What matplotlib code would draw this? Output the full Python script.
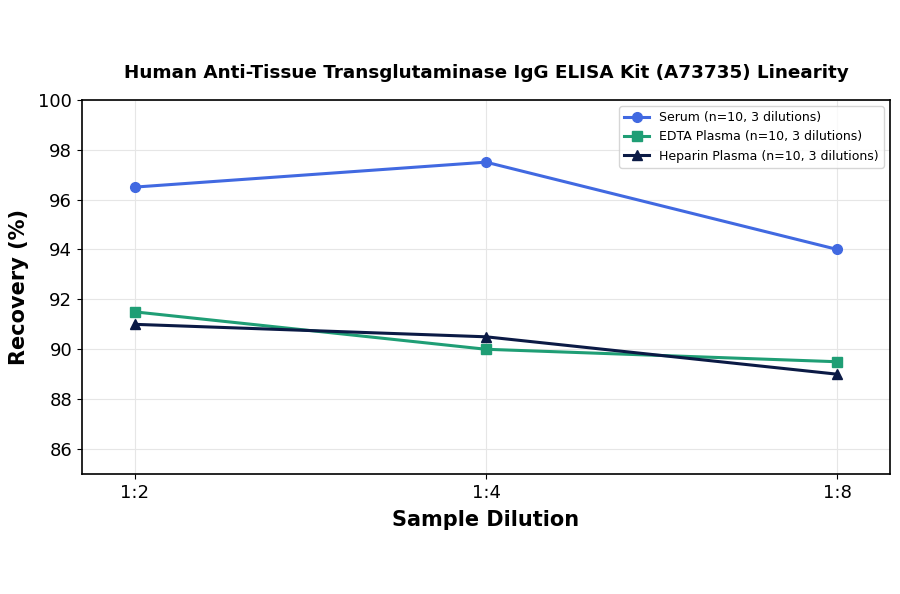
import matplotlib
matplotlib.use("Agg")
import matplotlib.pyplot as plt

dilutions = ["1:2", "1:4", "1:8"]
serum = [96.5, 97.5, 94.0]
edta = [91.5, 90.0, 89.5]
heparin = [91.0, 90.5, 89.0]

fig, ax = plt.subplots(figsize=(9, 5.94), dpi=100)
fig.subplots_adjust(left=0.091, right=0.989, top=0.832, bottom=0.202)

x = range(len(dilutions))
ax.plot(x, serum, '-o', color='#4169E1', lw=2.2, ms=7, label='Serum (n=10, 3 dilutions)')
ax.plot(x, edta, '-s', color='#1f9e75', lw=2.2, ms=7, label='EDTA Plasma (n=10, 3 dilutions)')
ax.plot(x, heparin, '-^', color='#0b1a45', lw=2.2, ms=7, label='Heparin Plasma (n=10, 3 dilutions)')

ax.set_xticks(list(x))
ax.set_xticklabels(dilutions)
ax.set_xlim(-0.15, 2.15)
ax.set_ylim(85, 100)
ax.set_yticks(range(86, 101, 2))
ax.tick_params(labelsize=13)
ax.grid(True, color='#e6e6e6', lw=0.8)
ax.set_axisbelow(True)
for s in ax.spines.values():
    s.set_linewidth(1.2)

ax.set_xlabel("Sample Dilution", fontsize=15, fontweight='bold', labelpad=6)
ax.set_ylabel("Recovery (%)", fontsize=15, fontweight='bold', labelpad=6.5)
ax.set_title("Human Anti-Tissue Transglutaminase IgG ELISA Kit (A73735) Linearity",
             fontsize=13.2, fontweight='bold', pad=15.5)
ax.legend(loc='upper right', fontsize=9)

fig.savefig("out.png")
